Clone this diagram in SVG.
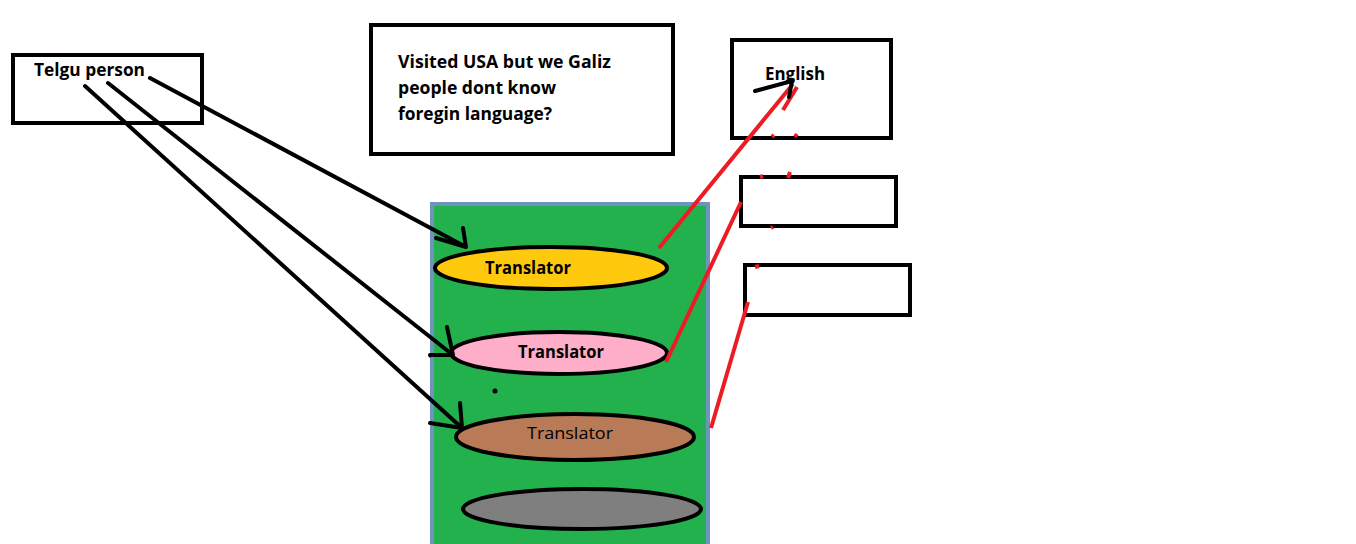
<svg xmlns="http://www.w3.org/2000/svg" width="1356" height="544" viewBox="0 0 1356 544">
<style>
.box{fill:#fff;stroke:#000;stroke-width:4}
.t{font-family:"Open Sans","Liberation Sans",sans-serif;font-weight:bold;font-size:17px;fill:#000}
.tn{font-family:"Open Sans","Liberation Sans",sans-serif;font-size:17px;fill:#000}
.ell{stroke:#000;stroke-width:4}
.bl{stroke:#000;stroke-width:4;stroke-linecap:round;fill:none}
.rd{stroke:#ed1c24;stroke-width:4;stroke-linecap:butt;fill:none}
</style>
<rect width="1356" height="544" fill="#fff"/>
<g id="telgu">
<rect class="box" x="13" y="55" width="189" height="68"/>
<text class="t" x="34" y="76" textLength="111" lengthAdjust="spacingAndGlyphs">Telgu person</text>
</g>
<g id="question">
<rect class="box" x="371" y="25" width="302" height="129"/>
<text class="t" x="398" y="68" textLength="213" lengthAdjust="spacingAndGlyphs">Visited USA but we Galiz</text>
<text class="t" x="398" y="94" textLength="158" lengthAdjust="spacingAndGlyphs">people dont know</text>
<text class="t" x="398" y="120" textLength="154" lengthAdjust="spacingAndGlyphs">foregin language?</text>
</g>
<g id="english">
<rect class="box" x="732" y="40" width="159" height="98"/>
<text class="t" x="765" y="80" textLength="60" lengthAdjust="spacingAndGlyphs">English</text>
</g>
<g id="box2"><rect class="box" x="741" y="177" width="155" height="49"/></g>
<g id="box3"><rect class="box" x="745" y="265" width="165" height="50"/></g>
<g id="container">
<rect x="432" y="204" width="276" height="345" fill="#22b14c" stroke="#7092be" stroke-width="4"/>
</g>
<g id="translator1">
<ellipse class="ell" cx="551" cy="268" rx="116" ry="21" fill="#ffc90e"/>
<text class="t" x="485" y="274" textLength="86" lengthAdjust="spacingAndGlyphs">Translator</text>
</g>
<g id="translator2">
<ellipse class="ell" cx="559" cy="353" rx="108" ry="21" fill="#ffaec9"/>
<text class="t" x="518" y="358" textLength="86" lengthAdjust="spacingAndGlyphs">Translator</text>
</g>
<g id="translator3">
<ellipse class="ell" cx="575" cy="437" rx="119" ry="23" fill="#b97a57"/>
<text class="tn" x="527" y="439" textLength="86" lengthAdjust="spacingAndGlyphs">Translator</text>
</g>
<g id="translator4">
<ellipse class="ell" cx="582" cy="509" rx="119" ry="20" fill="#7f7f7f"/>
</g>
<g id="connectors">
<path class="bl" d="M150 78 L466 247 M436 238 L466 247 M463 228 L466 247"/>
<path class="bl" d="M108 83 L453 355 M447 327 L453 355 M430 355 L453 355"/>
<path class="bl" d="M85 86 L462 428 M460 403 L462 428 M430 423 L462 428"/>
<circle cx="495" cy="391" r="2.5" fill="#000"/>
<circle cx="430" cy="356" r="1.5" fill="#000"/>
<path class="rd" d="M659 248 L793 84 M783 110 L797 87"/>
<path class="rd" d="M772 137 L774 135 M795 137 L797 134 M788 178 L790 172 M760 177 L763 176 M771 228 L773 227 M755 267 L759 266"/>
<path class="rd" d="M666 362 L741 202"/>
<path class="rd" d="M711 428 L748 302"/>
<path class="bl" d="M755 91 L792 81 L789 97"/>
</g>
</svg>
